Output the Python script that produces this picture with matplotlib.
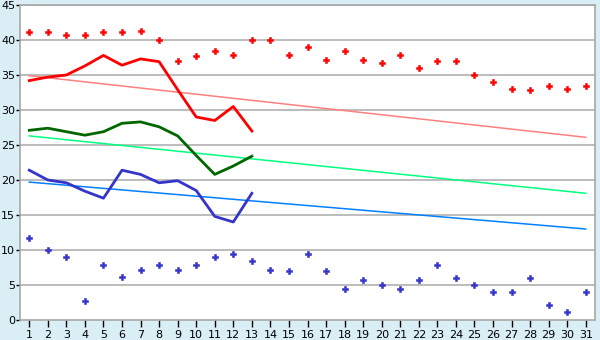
import numpy as np
import matplotlib.pyplot as plt

# ==========================================================
# DATA
# ==========================================================

days = list(range(1, 32))

high_dots = [41.1, 41.1, 40.7, 40.7, 41.1, 41.1, 41.3, 40.0, 37.0, 37.7,
             38.4, 37.8, 40.0, 40.0, 37.8, 39.0, 37.2, 38.4, 37.2, 36.7,
             37.8, 36.0, 37.0, 37.0, 35.0, 34.0, 33.0, 32.8, 33.4, 33.0, 33.4]

low_dots = [11.7, 10.0, 9.0, 2.7, 7.8, 6.1, 7.2, 7.8, 7.2, 7.8,
            9.0, 9.4, 8.4, 7.2, 7.0, 9.4, 7.0, 4.4, 5.7, 5.0,
            4.4, 5.7, 7.8, 6.0, 5.0, 4.0, 4.0, 6.0, 2.2, 1.1, 4.0]

line_days = list(range(1, 14))

red_line = [34.2, 34.7, 35.0, 36.3, 37.8, 36.4, 37.3, 36.9, 32.9, 29.0,
            28.5, 30.5, 27.0]

green_line = [27.1, 27.4, 26.9, 26.4, 26.9, 28.1, 28.3, 27.6, 26.3, 23.5,
              20.8, 22.0, 23.4]

blue_line = [21.4, 20.0, 19.6, 18.4, 17.4, 21.4, 20.8, 19.6, 19.9, 18.5,
             14.8, 14.0, 18.1]

trend_days = [1, 31]
red_trend = [34.9, 26.1]
green_trend = [26.3, 18.1]
blue_trend = [19.7, 13.0]

# ==========================================================
# PLOT
# ==========================================================

fig = plt.figure(figsize=(6, 3.4), dpi=100)
fig.patch.set_facecolor("#daeef5")

ax = fig.add_axes([20 / 600, 20 / 340, 575 / 600, 315 / 340])
ax.set_facecolor("white")

for y in range(5, 50, 5):
    ax.axhline(y, color="#b0b0b0", linewidth=1.2, zorder=0)

ax.plot(trend_days, red_trend, color="#ff8080", linewidth=1.1)
ax.plot(trend_days, green_trend, color="#00ff80", linewidth=1.1)
ax.plot(trend_days, blue_trend, color="#0080ff", linewidth=1.1)

ax.plot(line_days, red_line, color="#ff0000", linewidth=2)
ax.plot(line_days, green_line, color="#006600", linewidth=2)
ax.plot(line_days, blue_line, color="#3535cc", linewidth=2)

ax.plot(days, high_dots, linestyle="none", marker="P",
        markersize=4.5, color="#ff0000", markeredgewidth=0.4)
ax.plot(days, low_dots, linestyle="none", marker="P",
        markersize=4.5, color="#3535cc", markeredgewidth=0.4)

ax.set_xlim(0.5, 31.5)
ax.set_ylim(0, 45)
ax.set_xticks(days)
ax.set_yticks(range(0, 50, 5))

for side in ["left", "bottom", "right", "top"]:
    ax.spines[side].set_color("#a8a8a8")
    ax.spines[side].set_linewidth(1.2)

ax.tick_params(axis="x", labelsize=8, colors="black",
               length=5, width=1, pad=2)
ax.tick_params(axis="y", labelsize=8, colors="black",
               length=3, width=1, pad=0.5)

fig.savefig("out.png", dpi=100, facecolor=fig.get_facecolor())
